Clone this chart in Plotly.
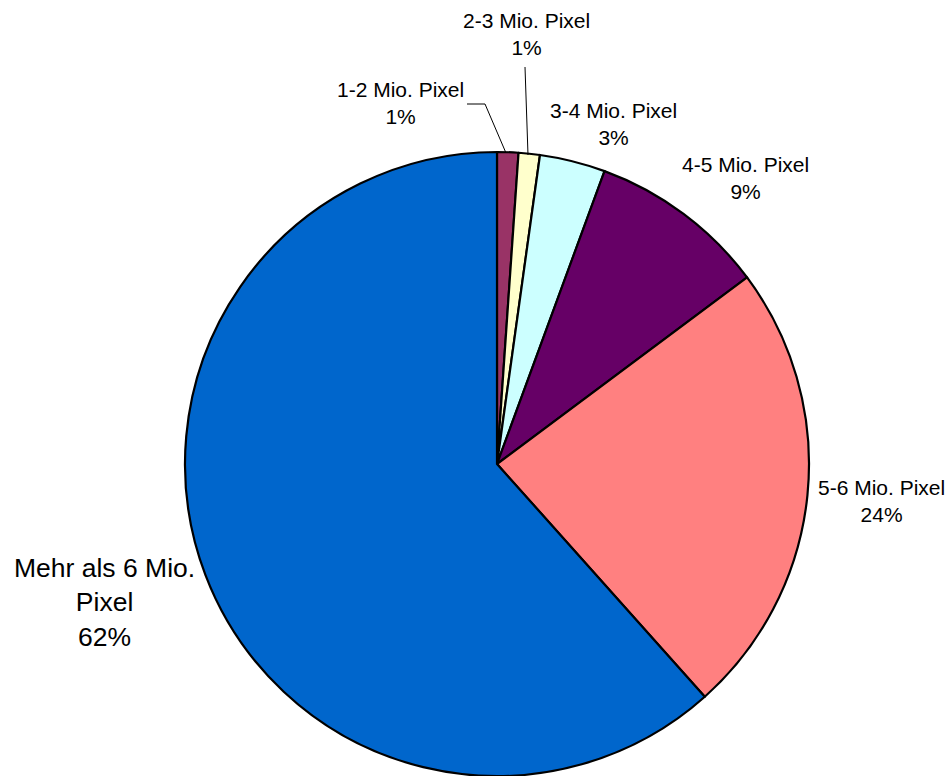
import plotly.graph_objects as go

W, H = 950, 776

labels = ["1-2 Mio. Pixel", "2-3 Mio. Pixel", "3-4 Mio. Pixel", "4-5 Mio. Pixel",
          "5-6 Mio. Pixel", "Mehr als 6 Mio. Pixel"]
values = [1.1, 1.1, 3.4, 9.2, 23.6, 61.6]
colours = ["#993366", "#FFFFCC", "#CCFFFF", "#660066", "#FF8080", "#0066CC"]

# label placement in screen pixels (centre x, centre y) and font size
label_pos = [(400, 103), (526, 34), (613, 124), (745, 178), (881, 501), (104, 602)]
label_size = [21, 21, 21, 21, 21, 26.5]
label_text = {"Mehr als 6 Mio. Pixel": "Mehr als 6 Mio.<br>Pixel"}

CX, CY, R = 497, 464, 312


def px(x):
    return x / W


def py(y):
    return 1 - y / H


fig = go.Figure(go.Pie(
    labels=labels, values=values, sort=False, direction="clockwise", rotation=0,
    marker=dict(colors=colours, line=dict(color="black", width=2.2)),
    textinfo="none", hoverinfo="label+percent", showlegend=False,
    domain=dict(x=[px(CX - R), px(CX + R)], y=[max(0, py(CY + R)), py(CY - R)]),
))

total = sum(values)
for lab, v, (x, y), fs in zip(labels, values, label_pos, label_size):
    fig.add_annotation(
        x=px(x), y=py(y), xref="paper", yref="paper",
        text=f"{label_text.get(lab, lab)}<br>{v / total:.0%}",
        showarrow=False, xanchor="center", yanchor="middle",
        font=dict(size=fs, color="black", family="Liberation Sans, Arial"))


# leader lines for the two thin slices
def pth(pts):
    return "M " + " L ".join(f"{px(x)},{py(y)}" for x, y in pts)


fig.add_shape(type="path", path=pth([(467, 104), (485, 104), (506, 153)]),
              xref="paper", yref="paper", line=dict(color="black", width=1))
fig.add_shape(type="path", path=pth([(525, 67), (528, 155)]),
              xref="paper", yref="paper", line=dict(color="black", width=1))

fig.update_layout(
    width=W, height=H, margin=dict(l=0, r=0, t=0, b=0),
    paper_bgcolor="white", plot_bgcolor="white",
    font=dict(family="Liberation Sans, Arial"),
)

# drop the default page margin so the figure fills the window exactly
fig.write_html("out.html", config={"displayModeBar": False},
               post_script="document.body.style.margin='0';document.body.style.overflow='hidden';")
